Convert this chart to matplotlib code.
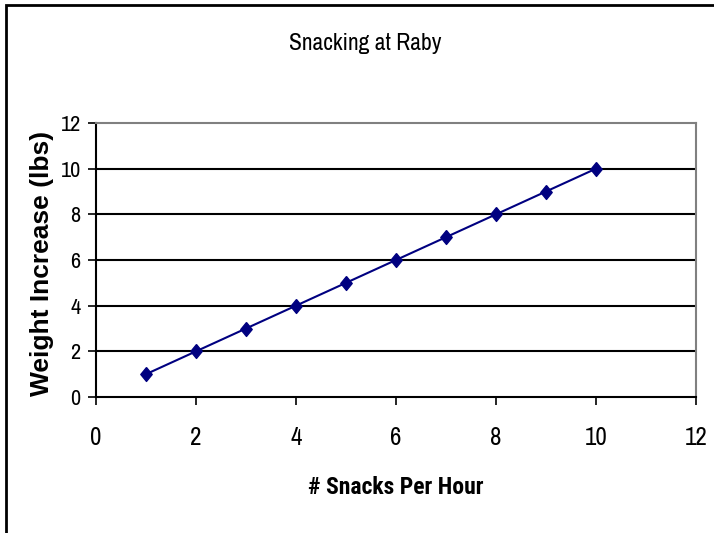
import matplotlib
matplotlib.use("Agg")
import matplotlib.pyplot as plt
from matplotlib.patches import Rectangle

snacks_per_hour = [1, 2, 3, 4, 5, 6, 7, 8, 9, 10]
weight_increase = [1, 2, 3, 4, 5, 6, 7, 8, 9, 10]
x_ticks = [0, 2, 4, 6, 8, 10, 12]
y_ticks = [0, 2, 4, 6, 8, 10, 12]

narrow = ["Archivo Narrow", "DejaVu Sans"]
narrow_bold = ["Roboto Condensed", "DejaVu Sans"]
wide = ["Liberation Sans", "DejaVu Sans"]
navy = "#000080"

W, H = 714, 533
fig = plt.figure(figsize=(W / 100, H / 100), dpi=100)
fig.patch.set_facecolor("white")

# outer chart border (left and top edges visible)
fig.add_artist(Rectangle((5.5 / W, -0.05), 1.2, 1 - 5.5 / H + 0.05,
                         transform=fig.transFigure, fill=False,
                         edgecolor="black", linewidth=2))

# plot area in pixel terms
left, right, top, bottom = 96, 696, 123, 397
ax = fig.add_axes([left / W, 1 - bottom / H, (right - left) / W, (bottom - top) / H])

diamond = [(0, 1), (0.82, 0), (0, -1), (-0.82, 0), (0, 1)]
ax.plot(snacks_per_hour, weight_increase, color=navy, linewidth=1.5,
        marker=diamond, markersize=10, markerfacecolor=navy,
        markeredgecolor=navy, zorder=3, clip_on=False)

ax.set_xlim(0, 12)
ax.set_ylim(0, 12)
ax.set_xticks(x_ticks)
ax.set_yticks(y_ticks)
ax.set_xticklabels([str(v) for v in x_ticks], family=narrow, fontsize=18)
ax.set_yticklabels([str(v) for v in y_ticks], family=narrow, fontsize=16)
ax.tick_params(axis="x", direction="out", length=6, width=1.2, pad=15)
ax.tick_params(axis="y", direction="out", length=6, width=1.2, pad=5)

for y in y_ticks[1:-1]:
    ax.axhline(y, color="black", linewidth=1.5, zorder=1)

for side in ("left", "bottom"):
    ax.spines[side].set_color("black")
    ax.spines[side].set_linewidth(1.5)
for side in ("top", "right"):
    ax.spines[side].set_color("#808080")
    ax.spines[side].set_linewidth(1.5)

ax.set_xlabel("# Snacks Per Hour", family=narrow_bold, fontsize=17,
              fontweight="bold", va="center")
ax.xaxis.set_label_coords(0.5, (bottom - 488) / (bottom - top))
ax.set_ylabel("Weight Increase (lbs)", family=wide, fontsize=19,
              fontweight="bold", va="center")
ax.yaxis.set_label_coords((42.5 - left) / (right - left), 0.5 + (260 - 263) / (bottom - top))

fig.text(365 / W, 1 - 44 / H, "Snacking at Raby", family=narrow,
         fontsize=17, ha="center", va="center")

fig.savefig("out.png", dpi=100)
